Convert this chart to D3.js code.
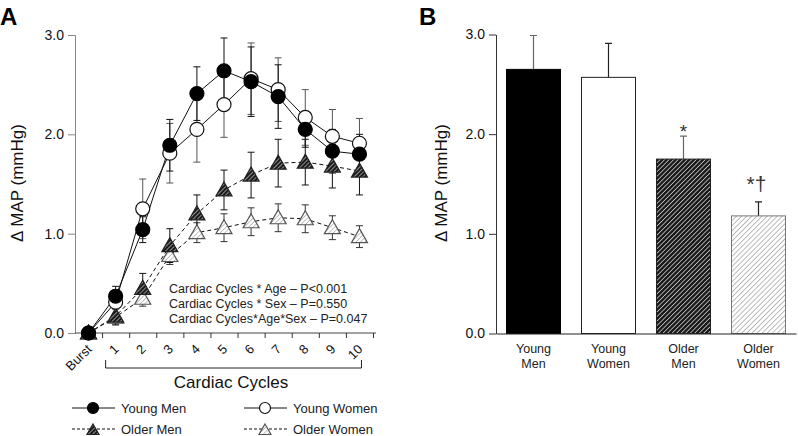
<!DOCTYPE html>
<html><head><meta charset="utf-8">
<script src="https://cdn.jsdelivr.net/npm/d3@7"></script>
<style>
body{margin:0;background:#fff;}
text{font-family:Arial,"Liberation Sans",sans-serif;}
</style>
</head><body>
<svg id="c" width="798" height="436"></svg>
<script>
const cycles = ["Burst","1","2","3","4","5","6","7","8","9","10"];
const youngMen     = [0, 0.37, 1.04, 1.89, 2.41, 2.64, 2.53, 2.38, 2.05, 1.83, 1.80];
const youngMenSE   = [0, 0.10, 0.13, 0.26, 0.27, 0.33, 0.35, 0.32, 0.18, 0.22, 0.20];
const youngWomen   = [0, 0.31, 1.25, 1.81, 2.05, 2.30, 2.56, 2.45, 2.17, 1.98, 1.91];
const youngWomenSE = [0, 0.12, 0.30, 0.30, 0.33, 0.33, 0.36, 0.32, 0.28, 0.27, 0.25];
const olderMen     = [0, 0.17, 0.45, 0.88, 1.20, 1.44, 1.59, 1.71, 1.72, 1.68, 1.63];
const olderMenSE   = [0, 0.08, 0.15, 0.17, 0.19, 0.20, 0.23, 0.24, 0.23, 0.22, 0.24];
const olderWomen   = [0, 0.16, 0.35, 0.78, 1.01, 1.06, 1.12, 1.16, 1.15, 1.06, 0.97];
const olderWomenSE = [0, 0.08, 0.08, 0.09, 0.10, 0.14, 0.14, 0.14, 0.14, 0.12, 0.11];
const yTicks = [0, 1, 2, 3];
const stats = ["Cardiac Cycles * Age \u2013 P<0.001","Cardiac Cycles * Sex \u2013 P=0.550","Cardiac Cycles*Age*Sex \u2013 P=0.047"];
const groups = [["Young","Men"],["Young","Women"],["Older","Men"],["Older","Women"]];
const barValues = [2.65, 2.57, 1.75, 1.18];
const barSE = [0.34, 0.34, 0.23, 0.14];
const barMarks = ["", "", "*", "*\u2020"];

const svg = d3.select("#c");
const defs = svg.append("defs");
function hatch(id, bg, fg, w, sp){
  const p = defs.append("pattern").attr("id", id).attr("patternUnits","userSpaceOnUse")
    .attr("width", sp).attr("height", sp).attr("patternTransform","rotate(45)");
  p.append("rect").attr("width", sp).attr("height", sp).attr("fill", bg);
  p.append("line").attr("x1",0).attr("y1",0).attr("x2",0).attr("y2",sp).attr("stroke",fg).attr("stroke-width",w);
}
hatch("hOM", "#1a1a1a", "#ffffff", 1.2, 3.2);
hatch("hOW", "#ffffff", "#777777", 1.0, 3.6);
hatch("hOMm", "#1a1a1a", "#dddddd", 1.2, 3.0);
hatch("hOWm", "#ffffff", "#888888", 1.0, 3.2);

// ---------- Panel A ----------
const yA = d3.scaleLinear().domain([0,3]).range([333,35]);
const xA = d3.scaleBand().domain(cycles).range([75,373]);
const xIdx = d3.scaleLinear().domain([0, cycles.length]).range([75,373]);
const cx = c => xA(c) + xA.bandwidth()/2;

const gA = svg.append("g");
const yAxA = gA.append("g").attr("transform","translate(75,0)")
  .call(d3.axisLeft(yA).tickValues(yTicks).tickFormat(d3.format(".1f")).tickSize(7).tickPadding(4));
yAxA.select(".domain").attr("stroke","#888");
yAxA.selectAll(".tick line").attr("stroke","#888");
yAxA.selectAll("text").attr("font-size",14).attr("fill","#111");

const xAxA = gA.append("g").attr("transform","translate(0,333)")
  .call(d3.axisBottom(xIdx).tickValues(d3.range(1, cycles.length+1)).tickFormat("").tickSize(5).tickSizeOuter(0));
xAxA.select(".domain").attr("stroke","#444").attr("d","M75,0H376");
xAxA.selectAll(".tick line").attr("stroke","#333");

const xLabA = gA.append("g").attr("transform","translate(0,333)")
  .call(d3.axisBottom(xA).tickSize(0).tickPadding(0));
xLabA.select(".domain").remove();
xLabA.selectAll("text").attr("font-size",13).attr("fill","#111")
  .attr("text-anchor","end").attr("dy",0).attr("y",0)
  .attr("transform","translate(4,17) rotate(-45)");

gA.append("text").attr("transform","translate(23,183) rotate(-90)")
  .attr("text-anchor","middle").attr("font-size",17).attr("fill","#111").text("\u0394 MAP (mmHg)");

// bracket
gA.append("path").attr("d",`M${cx("1")-10},360V368H${cx("10")+2}V360`).attr("fill","none").attr("stroke","#222").attr("stroke-width",1);
gA.append("text").attr("x",231).attr("y",388).attr("text-anchor","middle").attr("font-size",17).attr("fill","#111").text("Cardiac Cycles");

gA.append("g").selectAll("text").data(stats).join("text")
  .attr("x",169).attr("y",(d,i)=>293+i*15).attr("font-size",12.5).attr("fill","#222").text(d=>d);

gA.append("text").attr("x",0).attr("y",25).attr("font-size",24).attr("font-weight","bold").text("A");
svg.append("text").attr("x",419).attr("y",25).attr("font-size",24).attr("font-weight","bold").text("B");

const series = [
  {v: olderWomen, se: olderWomenSE, dash:"4,3", mark:"tri", fill:"url(#hOWm)", stroke:"#555", ebc:"#333"},
  {v: olderMen,   se: olderMenSE,   dash:"4,3", mark:"tri", fill:"url(#hOMm)", stroke:"#222", ebc:"#111"},
  {v: youngWomen, se: youngWomenSE, dash:null,  mark:"circ", fill:"#fff", stroke:"#111", ebc:"#555"},
  {v: youngMen,   se: youngMenSE,   dash:null,  mark:"circ", fill:"#000", stroke:"#000", ebc:"#111"}
];
const line = d3.line().x((d,i)=>cx(cycles[i])).y(d=>yA(d));
series.forEach(s=>{
  const g = gA.append("g");
  cycles.forEach((c,i)=>{
    if(s.se[i] <= 0) return;
    const x = cx(c), y1 = yA(s.v[i]+s.se[i]), y2 = yA(s.v[i]-s.se[i]);
    g.append("path").attr("d",`M${x},${y1}V${y2}M${x-3.5},${y1}H${x+3.5}M${x-3.5},${y2}H${x+3.5}`)
      .attr("stroke",s.ebc).attr("stroke-width",1).attr("fill","none");
  });
});
series.forEach(s=>{
  gA.append("path").datum(s.v).attr("d",line).attr("fill","none").attr("stroke","#111")
    .attr("stroke-width",1).attr("stroke-dasharray",s.dash);
});
const triPath = (x,y,r) => `M${x},${y-r}L${x+r*1.0},${y+r*0.75}L${x-r*1.0},${y+r*0.75}Z`;
function marker(g, type, x, y, fill, stroke){
  if(type==="circ") g.append("circle").attr("cx",x).attr("cy",y).attr("r",7).attr("fill",fill).attr("stroke",stroke).attr("stroke-width",1.2);
  else g.append("path").attr("d",triPath(x,y,8)).attr("fill",fill).attr("stroke",stroke).attr("stroke-width",1.2);
}
series.forEach(s=>{
  const g = gA.append("g");
  cycles.forEach((c,i)=> marker(g, s.mark, cx(c), yA(s.v[i]), s.fill, s.stroke));
});

// legend
const legend = [
  {t:"Young Men", x:72, y:408, dash:null, mark:"circ", fill:"#000", stroke:"#000"},
  {t:"Young Women", x:244, y:408, dash:null, mark:"circ", fill:"#fff", stroke:"#111"},
  {t:"Older Men", x:72, y:429, dash:"3,2", mark:"tri", fill:"url(#hOMm)", stroke:"#222"},
  {t:"Older Women", x:244, y:429, dash:"3,2", mark:"tri", fill:"url(#hOWm)", stroke:"#555"}
];
legend.forEach(l=>{
  const g = gA.append("g");
  g.append("line").attr("x1",l.x).attr("x2",l.x+43).attr("y1",l.y).attr("y2",l.y).attr("stroke","#111").attr("stroke-dasharray",l.dash);
  if(l.mark==="circ") g.append("circle").attr("cx",l.x+21).attr("cy",l.y).attr("r",5.5).attr("fill",l.fill).attr("stroke",l.stroke).attr("stroke-width",1.2);
  else g.append("path").attr("d",triPath(l.x+21,l.y+1,6)).attr("fill",l.fill).attr("stroke",l.stroke).attr("stroke-width",1.2);
  g.append("text").attr("x",l.x+49).attr("y",l.y+5).attr("font-size",13).attr("fill","#222").text(l.t);
});

// ---------- Panel B ----------
const yB = d3.scaleLinear().domain([0,3]).range([333.5,34.5]);
const xB = d3.scaleBand().domain(groups.map(g=>g.join(" "))).range([496,796]).paddingInner(0.28).paddingOuter(0.14);
const gB = svg.append("g");
const barFill = ["#000","#fff","url(#hOM)","url(#hOW)"];
const barStroke = ["#000","#222","#222","#777"];
const ebColor = ["#666","#222","#666","#222"];
groups.forEach((g,i)=>{
  const k = g.join(" ");
  const x = xB(k), w = xB.bandwidth(), xc = x + w/2;
  const top = yB(barValues[i]), et = yB(barValues[i]+barSE[i]);
  gB.append("path").attr("d",`M${xc},${top}V${et}M${xc-3.5},${et}H${xc+3.5}`).attr("stroke",ebColor[i]).attr("stroke-width",1.2);
  gB.append("rect").attr("x",x).attr("y",top).attr("width",w).attr("height",yB(0)-top)
    .attr("fill",barFill[i]).attr("stroke",barStroke[i]).attr("stroke-width",1);
  if(barMarks[i]) gB.append("text").attr("x",xc+(i===3?-2:0)).attr("y",i===3 ? et-11 : et+2).attr("text-anchor","middle")
    .attr("font-size",i===3?21:19).attr("fill","#333").text(barMarks[i]);
});
const yAxB = gB.append("g").attr("transform","translate(496,0)")
  .call(d3.axisLeft(yB).tickValues(yTicks).tickFormat(d3.format(".1f")).tickSize(7).tickPadding(4).tickSizeOuter(0));
yAxB.select(".domain").attr("stroke","#333");
yAxB.selectAll(".tick line").attr("stroke","#333");
yAxB.selectAll("text").attr("font-size",14).attr("fill","#111");
const xAxB = gB.append("g").attr("transform","translate(0,333.5)")
  .call(d3.axisBottom(xB).tickSize(0).tickSizeOuter(0).tickFormat(""));
xAxB.select(".domain").attr("stroke","#222");
xAxB.selectAll(".tick").each(function(d,i){
  const t = d3.select(this).append("text").attr("fill","#222").attr("font-size",12.5).attr("text-anchor","middle");
  t.append("tspan").attr("x",0).attr("y",19).text(groups[i][0]);
  t.append("tspan").attr("x",0).attr("y",34).text(groups[i][1]);
});
gB.append("text").attr("transform","translate(447,183) rotate(-90)")
  .attr("text-anchor","middle").attr("font-size",17).attr("fill","#111").text("\u0394 MAP (mmHg)");
</script>
</body></html>
